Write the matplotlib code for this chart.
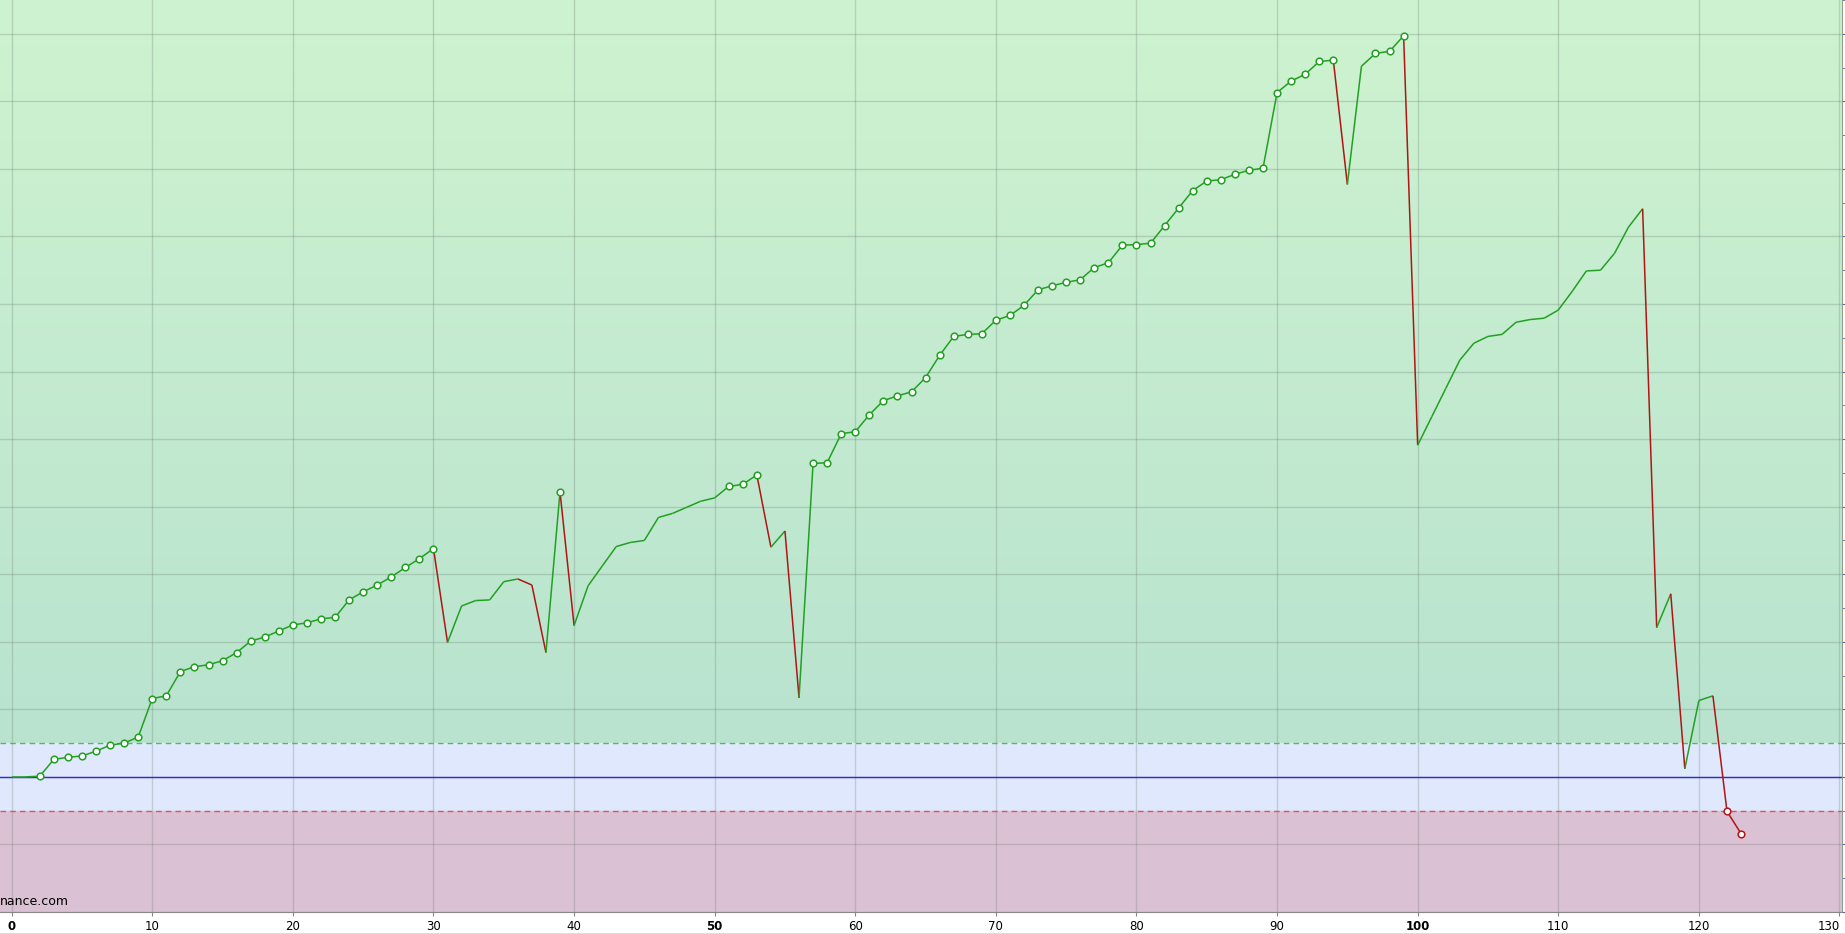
import numpy as np
import matplotlib
matplotlib.use('Agg')
import matplotlib.pyplot as plt
from matplotlib.collections import LineCollection
from matplotlib.colors import LinearSegmentedColormap

# Equity curve values, one per trade (x = 0..123)
trade_no = list(range(124))
equity = [
    0.00, 0.00, 0.01, 0.26, 0.29, 0.31, 0.38, 0.47, 0.50, 0.59,   # 0-9
    1.16, 1.20, 1.56, 1.63, 1.66, 1.72, 1.84, 2.01, 2.07, 2.16,   # 10-19
    2.25, 2.28, 2.34, 2.36, 2.62, 2.74, 2.84, 2.96, 3.10, 3.23,   # 20-29
    3.38, 1.99, 2.53, 2.61, 2.62, 2.89, 2.93, 2.84, 1.84, 4.22,   # 30-39
    2.24, 2.83, 3.12, 3.41, 3.47, 3.50, 3.84, 3.90, 3.99, 4.08,   # 40-49
    4.13, 4.30, 4.33, 4.47, 3.40, 3.64, 1.17, 4.64, 4.65, 5.08,   # 50-59
    5.11, 5.36, 5.57, 5.64, 5.70, 5.91, 6.24, 6.52, 6.55, 6.56,   # 60-69
    6.76, 6.83, 6.98, 7.21, 7.27, 7.32, 7.36, 7.54, 7.61, 7.87,   # 70-79
    7.88, 7.90, 8.16, 8.42, 8.68, 8.82, 8.84, 8.92, 8.98, 9.01,   # 80-89
    10.13, 10.30, 10.40, 10.59, 10.61, 8.77, 10.52, 10.71, 10.74, 10.97,  # 90-99
    4.91, 5.33, 5.75, 6.17, 6.42, 6.52, 6.55, 6.73, 6.77, 6.79,   # 100-109
    6.91, 7.19, 7.49, 7.50, 7.75, 8.14, 8.41, 2.21, 2.71, 0.12,   # 110-119
    1.13, 1.20, -0.51, -0.84,                                      # 120-123
]

x_ticks = list(range(0, 131, 10))
bold_ticks = [0, 50, 100]
upper_level = 0.5
lower_level = -0.5

GREEN = '#22a022'
RED = '#b01515'


def draw_plot():
    fig = plt.figure(figsize=(18.45, 9.34), dpi=100)
    ax = fig.add_axes([0, 22 / 934, 1842 / 1845, 912 / 934])

    xmin, xmax = -0.83, 130.18
    ymin, ymax = -2.0, 11.5

    # Background zones: green gradient above, blue band, red zone below
    cmap = LinearSegmentedColormap.from_list('bg', ['#b9e3d0', '#cef3cf'])
    grad = np.linspace(0, 1, 256).reshape(-1, 1)
    ax.imshow(grad, cmap=cmap, origin='lower', aspect='auto',
              extent=[xmin, xmax, upper_level, ymax], zorder=0)
    ax.axhspan(lower_level, upper_level, color='#dfe8fd', zorder=0)
    ax.axhspan(ymin, lower_level, color='#dbc1d4', zorder=0)

    # Level lines
    ax.axhline(upper_level, color='#55bb55', lw=1, ls=(0, (4, 3)), zorder=2)
    ax.axhline(lower_level, color='#e05555', lw=1, ls=(0, (4, 3)), zorder=2)
    ax.axhline(0, color='#2a2ae0', lw=1, zorder=2)

    # Line segments coloured by direction
    pts = np.column_stack([trade_no, equity])
    segs = np.stack([pts[:-1], pts[1:]], axis=1)
    colors = [GREEN if b >= a else RED for a, b in zip(equity[:-1], equity[1:])]
    ax.add_collection(LineCollection(segs, colors=colors, linewidths=1.1, zorder=3))

    # Markers on new highs (green) and new lows (red)
    hi_x, hi_y, lo_x, lo_y = [], [], [], []
    run_max = run_min = equity[0]
    for i, v in zip(trade_no, equity):
        if v > run_max:
            hi_x.append(i)
            hi_y.append(v)
            run_max = v
        elif v < run_min:
            lo_x.append(i)
            lo_y.append(v)
            run_min = v
    ax.plot(hi_x, hi_y, 'o', ms=4.8, mfc='white', mec=GREEN, mew=1.1, zorder=4)
    ax.plot(lo_x, lo_y, 'o', ms=4.8, mfc='white', mec=RED, mew=1.1, zorder=4)

    ax.set_xlim(xmin, xmax)
    ax.set_ylim(ymin, ymax)

    # Grid
    ax.set_xticks(x_ticks)
    ax.set_yticks(np.arange(-2, 12, 1))
    ax.set_yticks(np.arange(-2, 11.6, 0.5), minor=True)
    ax.grid(True, which='major', color='#6a7a70', alpha=0.27, lw=1, zorder=1)

    ax.yaxis.tick_right()
    ax.tick_params(axis='y', which='both', length=3, color='#4a6a9a',
                   labelright=False, direction='out')
    ax.tick_params(axis='x', length=3, color='#888888', labelsize=8.5, pad=3)
    for lbl in ax.get_xticklabels():
        if int(lbl.get_text()) in bold_ticks:
            lbl.set_fontweight('bold')
    # last label sits at the figure edge, keep it inside
    last = ax.get_xticklabels()[-1]
    last.set_horizontalalignment('right')
    last.set_x(x_ticks[-1])

    for side in ['left', 'top']:
        ax.spines[side].set_visible(False)
    ax.spines['right'].set_color('#8aa090')
    ax.spines['bottom'].set_color('#888888')

    ax.text(0.0, 0.004, 'nance.com', transform=ax.transAxes, fontsize=9,
            ha='left', va='bottom', zorder=5)

    # Dark line at the very bottom of the figure
    fig.add_artist(plt.Line2D([0, 1], [0.5 / 934, 0.5 / 934], color='#555555', lw=1))

    fig.savefig('out.png', dpi=100)
    return ax


if __name__ == '__main__':
    draw_plot()
